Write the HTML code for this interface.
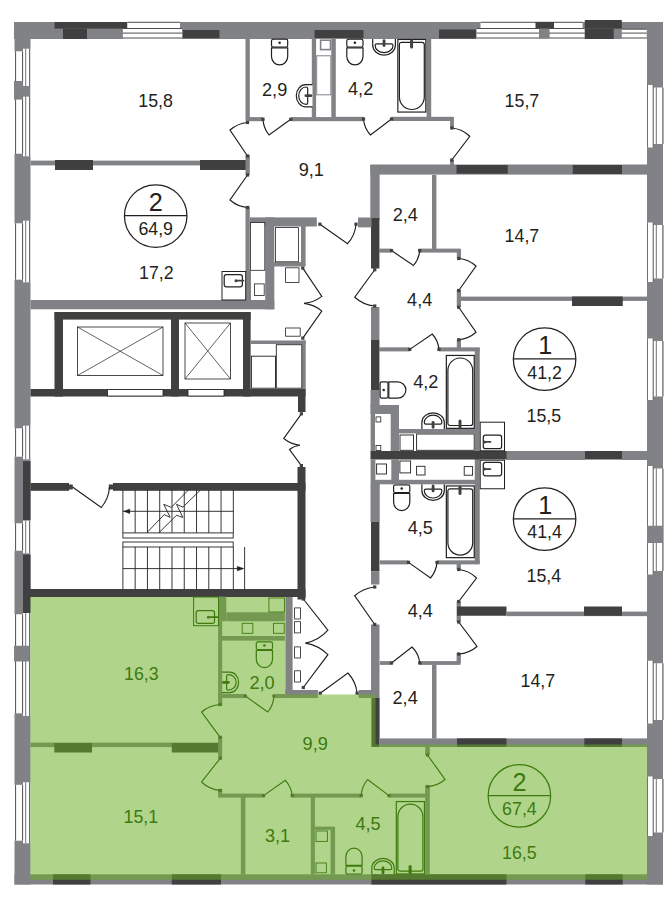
<!DOCTYPE html>
<html><head><meta charset="utf-8"><title>Plan</title>
<style>html,body{margin:0;padding:0;background:#fff}svg{display:block}text{font-family:"Liberation Sans",sans-serif}</style></head>
<body>
<svg width="672" height="907" viewBox="0 0 672 907">
<rect x="14.00" y="22.00" width="649.00" height="17.00" fill="#808285"/>
<rect x="14.50" y="22.00" width="16.00" height="862.50" fill="#808285"/>
<rect x="647.00" y="22.00" width="16.00" height="862.50" fill="#808285"/>
<rect x="14.50" y="874.30" width="648.50" height="10.20" fill="#808285"/>
<rect x="13.00" y="51.30" width="10.00" height="102.40" fill="#fff"/>
<rect x="23.00" y="48.70" width="8.50" height="107.60" fill="#fff"/>
<line x1="15.60" y1="51.30" x2="15.60" y2="153.70" stroke="#4d4d4f" stroke-width="1.0"/>
<line x1="22.60" y1="51.30" x2="22.60" y2="153.70" stroke="#4d4d4f" stroke-width="1.0"/>
<line x1="25.70" y1="48.70" x2="25.70" y2="156.30" stroke="#4d4d4f" stroke-width="0.8"/>
<line x1="29.70" y1="48.70" x2="29.70" y2="156.30" stroke="#4d4d4f" stroke-width="1.0"/>
<rect x="14.00" y="81.00" width="9.00" height="18.60" fill="#808285"/>
<rect x="22.50" y="86.00" width="7.50" height="10.60" fill="#808285"/>
<rect x="13.00" y="223.30" width="10.00" height="56.40" fill="#fff"/>
<rect x="23.00" y="220.70" width="8.50" height="61.60" fill="#fff"/>
<line x1="15.60" y1="223.30" x2="15.60" y2="279.70" stroke="#4d4d4f" stroke-width="1.0"/>
<line x1="22.60" y1="223.30" x2="22.60" y2="279.70" stroke="#4d4d4f" stroke-width="1.0"/>
<line x1="25.70" y1="220.70" x2="25.70" y2="282.30" stroke="#4d4d4f" stroke-width="0.8"/>
<line x1="29.70" y1="220.70" x2="29.70" y2="282.30" stroke="#4d4d4f" stroke-width="1.0"/>
<rect x="13.00" y="428.30" width="10.00" height="28.40" fill="#fff"/>
<rect x="23.00" y="425.70" width="8.50" height="33.60" fill="#fff"/>
<line x1="15.60" y1="428.30" x2="15.60" y2="456.70" stroke="#4d4d4f" stroke-width="1.0"/>
<line x1="22.60" y1="428.30" x2="22.60" y2="456.70" stroke="#4d4d4f" stroke-width="1.0"/>
<line x1="25.70" y1="425.70" x2="25.70" y2="459.30" stroke="#4d4d4f" stroke-width="0.8"/>
<line x1="29.70" y1="425.70" x2="29.70" y2="459.30" stroke="#4d4d4f" stroke-width="1.0"/>
<rect x="13.00" y="523.30" width="10.00" height="27.40" fill="#fff"/>
<rect x="23.00" y="520.70" width="8.50" height="32.60" fill="#fff"/>
<line x1="15.60" y1="523.30" x2="15.60" y2="550.70" stroke="#4d4d4f" stroke-width="1.0"/>
<line x1="22.60" y1="523.30" x2="22.60" y2="550.70" stroke="#4d4d4f" stroke-width="1.0"/>
<line x1="25.70" y1="520.70" x2="25.70" y2="553.30" stroke="#4d4d4f" stroke-width="0.8"/>
<line x1="29.70" y1="520.70" x2="29.70" y2="553.30" stroke="#4d4d4f" stroke-width="1.0"/>
<rect x="13.00" y="614.30" width="10.00" height="99.00" fill="#fff"/>
<rect x="23.00" y="611.70" width="8.50" height="104.20" fill="#fff"/>
<line x1="15.60" y1="614.30" x2="15.60" y2="713.30" stroke="#4d4d4f" stroke-width="1.0"/>
<line x1="22.60" y1="614.30" x2="22.60" y2="713.30" stroke="#4d4d4f" stroke-width="1.0"/>
<line x1="25.70" y1="611.70" x2="25.70" y2="715.90" stroke="#4d4d4f" stroke-width="0.8"/>
<line x1="29.70" y1="611.70" x2="29.70" y2="715.90" stroke="#4d4d4f" stroke-width="1.0"/>
<rect x="14.00" y="645.75" width="15.50" height="15.75" fill="#808285"/>
<rect x="13.00" y="784.80" width="10.00" height="55.90" fill="#fff"/>
<rect x="23.00" y="782.20" width="8.50" height="61.10" fill="#fff"/>
<line x1="15.60" y1="784.80" x2="15.60" y2="840.70" stroke="#4d4d4f" stroke-width="1.0"/>
<line x1="22.60" y1="784.80" x2="22.60" y2="840.70" stroke="#4d4d4f" stroke-width="1.0"/>
<line x1="25.70" y1="782.20" x2="25.70" y2="843.30" stroke="#4d4d4f" stroke-width="0.8"/>
<line x1="29.70" y1="782.20" x2="29.70" y2="843.30" stroke="#4d4d4f" stroke-width="1.0"/>
<rect x="646.00" y="85.00" width="7.30" height="62.50" fill="#fff"/>
<rect x="653.30" y="87.50" width="11.20" height="56.50" fill="#fff"/>
<line x1="647.50" y1="85.00" x2="647.50" y2="147.50" stroke="#4d4d4f" stroke-width="0.8"/>
<line x1="653.20" y1="85.00" x2="653.20" y2="147.50" stroke="#4d4d4f" stroke-width="0.9"/>
<line x1="656.30" y1="87.50" x2="656.30" y2="144.00" stroke="#4d4d4f" stroke-width="0.8"/>
<line x1="662.90" y1="87.50" x2="662.90" y2="144.00" stroke="#4d4d4f" stroke-width="1.1"/>
<rect x="646.00" y="222.50" width="7.30" height="59.50" fill="#fff"/>
<rect x="653.30" y="225.00" width="11.20" height="53.50" fill="#fff"/>
<line x1="647.50" y1="222.50" x2="647.50" y2="282.00" stroke="#4d4d4f" stroke-width="0.8"/>
<line x1="653.20" y1="222.50" x2="653.20" y2="282.00" stroke="#4d4d4f" stroke-width="0.9"/>
<line x1="656.30" y1="225.00" x2="656.30" y2="278.50" stroke="#4d4d4f" stroke-width="0.8"/>
<line x1="662.90" y1="225.00" x2="662.90" y2="278.50" stroke="#4d4d4f" stroke-width="1.1"/>
<rect x="646.00" y="338.50" width="7.30" height="61.50" fill="#fff"/>
<rect x="653.30" y="341.00" width="11.20" height="55.50" fill="#fff"/>
<line x1="647.50" y1="338.50" x2="647.50" y2="400.00" stroke="#4d4d4f" stroke-width="0.8"/>
<line x1="653.20" y1="338.50" x2="653.20" y2="400.00" stroke="#4d4d4f" stroke-width="0.9"/>
<line x1="656.30" y1="341.00" x2="656.30" y2="396.50" stroke="#4d4d4f" stroke-width="0.8"/>
<line x1="662.90" y1="341.00" x2="662.90" y2="396.50" stroke="#4d4d4f" stroke-width="1.1"/>
<rect x="646.00" y="466.00" width="7.30" height="108.50" fill="#fff"/>
<rect x="653.30" y="468.50" width="11.20" height="102.50" fill="#fff"/>
<line x1="647.50" y1="466.00" x2="647.50" y2="574.50" stroke="#4d4d4f" stroke-width="0.8"/>
<line x1="653.20" y1="466.00" x2="653.20" y2="574.50" stroke="#4d4d4f" stroke-width="0.9"/>
<line x1="656.30" y1="468.50" x2="656.30" y2="571.00" stroke="#4d4d4f" stroke-width="0.8"/>
<line x1="662.90" y1="468.50" x2="662.90" y2="571.00" stroke="#4d4d4f" stroke-width="1.1"/>
<rect x="647.00" y="525.75" width="16.00" height="17.25" fill="#808285"/>
<rect x="646.00" y="660.75" width="7.30" height="62.75" fill="#fff"/>
<rect x="653.30" y="663.25" width="11.20" height="56.75" fill="#fff"/>
<line x1="647.50" y1="660.75" x2="647.50" y2="723.50" stroke="#4d4d4f" stroke-width="0.8"/>
<line x1="653.20" y1="660.75" x2="653.20" y2="723.50" stroke="#4d4d4f" stroke-width="0.9"/>
<line x1="656.30" y1="663.25" x2="656.30" y2="720.00" stroke="#4d4d4f" stroke-width="0.8"/>
<line x1="662.90" y1="663.25" x2="662.90" y2="720.00" stroke="#4d4d4f" stroke-width="1.1"/>
<rect x="646.00" y="776.50" width="7.30" height="59.50" fill="#fff"/>
<rect x="653.30" y="779.00" width="11.20" height="53.50" fill="#fff"/>
<line x1="647.50" y1="776.50" x2="647.50" y2="836.00" stroke="#4d4d4f" stroke-width="0.8"/>
<line x1="653.20" y1="776.50" x2="653.20" y2="836.00" stroke="#4d4d4f" stroke-width="0.9"/>
<line x1="656.30" y1="779.00" x2="656.30" y2="832.50" stroke="#4d4d4f" stroke-width="0.8"/>
<line x1="662.90" y1="779.00" x2="662.90" y2="832.50" stroke="#4d4d4f" stroke-width="1.1"/>
<rect x="54.50" y="22.00" width="72.80" height="6.60" fill="#404041"/>
<rect x="63.00" y="28.60" width="24.00" height="10.40" fill="#404041"/>
<rect x="127.30" y="21.00" width="52.70" height="7.60" fill="#fff"/>
<rect x="122.90" y="28.60" width="59.10" height="10.90" fill="#fff"/>
<line x1="127.30" y1="22.30" x2="180.00" y2="22.30" stroke="#4d4d4f" stroke-width="1.0"/>
<line x1="122.90" y1="28.50" x2="182.00" y2="28.50" stroke="#4d4d4f" stroke-width="1.0"/>
<line x1="122.90" y1="33.10" x2="182.00" y2="33.10" stroke="#4d4d4f" stroke-width="1.0"/>
<line x1="122.90" y1="38.00" x2="182.00" y2="38.00" stroke="#4d4d4f" stroke-width="1.0"/>
<rect x="183.00" y="30.00" width="36.50" height="8.20" fill="#404041"/>
<rect x="314.50" y="30.00" width="49.00" height="8.00" fill="#404041"/>
<rect x="439.00" y="29.50" width="37.00" height="9.00" fill="#404041"/>
<rect x="480.50" y="21.00" width="102.50" height="7.60" fill="#fff"/>
<rect x="476.60" y="28.60" width="108.20" height="10.90" fill="#fff"/>
<line x1="480.50" y1="22.30" x2="583.00" y2="22.30" stroke="#4d4d4f" stroke-width="1.0"/>
<line x1="476.60" y1="28.50" x2="584.80" y2="28.50" stroke="#4d4d4f" stroke-width="1.0"/>
<line x1="476.60" y1="33.10" x2="584.80" y2="33.10" stroke="#4d4d4f" stroke-width="1.0"/>
<line x1="476.60" y1="38.00" x2="584.80" y2="38.00" stroke="#4d4d4f" stroke-width="1.0"/>
<rect x="535.50" y="22.00" width="18.50" height="6.60" fill="#404041"/>
<rect x="539.00" y="28.60" width="10.60" height="9.90" fill="#808285"/>
<rect x="582.60" y="22.00" width="2.60" height="6.60" fill="#808285"/>
<rect x="584.80" y="20.00" width="37.00" height="8.60" fill="#404041"/>
<rect x="584.80" y="28.60" width="28.90" height="10.40" fill="#404041"/>
<rect x="621.80" y="29.00" width="24.90" height="10.50" fill="#fff"/>
<line x1="621.80" y1="29.20" x2="646.70" y2="29.20" stroke="#4d4d4f" stroke-width="1.0"/>
<line x1="621.80" y1="33.10" x2="646.70" y2="33.10" stroke="#4d4d4f" stroke-width="1.0"/>
<line x1="621.80" y1="38.00" x2="646.70" y2="38.00" stroke="#4d4d4f" stroke-width="1.0"/>
<rect x="23.00" y="461.20" width="7.50" height="58.80" fill="#404041"/>
<rect x="23.00" y="554.60" width="7.50" height="58.40" fill="#404041"/>
<rect x="53.00" y="874.30" width="37.50" height="10.20" fill="#404041"/>
<rect x="171.80" y="874.30" width="49.20" height="10.20" fill="#404041"/>
<rect x="371.40" y="874.30" width="135.10" height="10.20" fill="#404041"/>
<rect x="585.30" y="874.30" width="37.40" height="10.20" fill="#404041"/>
<rect x="30.50" y="160.60" width="215.50" height="4.80" fill="#808285"/>
<rect x="55.00" y="160.00" width="38.00" height="10.00" fill="#404041"/>
<rect x="200.00" y="160.00" width="49.00" height="10.00" fill="#404041"/>
<rect x="245.50" y="39.00" width="4.30" height="81.80" fill="#808285"/>
<rect x="245.50" y="155.00" width="4.30" height="20.00" fill="#808285"/>
<rect x="245.50" y="206.60" width="4.30" height="94.40" fill="#808285"/>
<rect x="246.20" y="117.10" width="16.80" height="4.10" fill="#808285"/>
<rect x="290.80" y="117.10" width="72.70" height="4.10" fill="#808285"/>
<rect x="311.80" y="39.00" width="4.30" height="78.50" fill="#808285"/>
<rect x="331.30" y="39.00" width="4.50" height="78.50" fill="#808285"/>
<rect x="335.00" y="116.80" width="28.50" height="4.20" fill="#808285"/>
<rect x="391.50" y="116.80" width="62.00" height="4.20" fill="#808285"/>
<rect x="426.60" y="39.00" width="4.60" height="78.50" fill="#808285"/>
<rect x="450.10" y="117.20" width="3.80" height="10.80" fill="#808285"/>
<rect x="450.10" y="160.00" width="3.80" height="6.00" fill="#808285"/>
<rect x="320.60" y="40.20" width="9.90" height="9.40" rx="0" fill="#fff" stroke="#808285" stroke-width="1.6"/>
<rect x="316.70" y="55.80" width="14.10" height="39.00" rx="0" fill="#fff" stroke="#808285" stroke-width="1.0"/>
<rect x="30.50" y="300.00" width="243.80" height="9.30" fill="#808285"/>
<rect x="265.20" y="217.40" width="9.10" height="91.90" fill="#808285"/>
<rect x="250.00" y="217.40" width="66.80" height="9.10" fill="#808285"/>
<rect x="301.00" y="226.00" width="4.60" height="40.10" fill="#808285"/>
<rect x="274.00" y="262.10" width="31.20" height="4.40" fill="#808285"/>
<rect x="250.60" y="222.50" width="14.20" height="47.80" rx="0" fill="#fff" stroke="#231f20" stroke-width="0.8"/>
<rect x="254.40" y="283.90" width="9.80" height="11.50" rx="0" fill="#fff" stroke="#231f20" stroke-width="0.8"/>
<line x1="250.20" y1="270.30" x2="250.20" y2="300.00" stroke="#231f20" stroke-width="0.8"/>
<rect x="275.40" y="227.60" width="23.00" height="34.20" rx="0" fill="#fff" stroke="#231f20" stroke-width="0.8"/>
<rect x="285.60" y="267.80" width="13.40" height="14.80" rx="0" fill="#fff" stroke="#231f20" stroke-width="0.8"/>
<rect x="285.60" y="328.00" width="14.60" height="8.20" rx="0" fill="#fff" stroke="#231f20" stroke-width="0.8"/>
<rect x="370.30" y="164.50" width="276.70" height="10.10" fill="#808285"/>
<rect x="456.50" y="165.00" width="51.25" height="8.70" fill="#404041"/>
<rect x="572.75" y="165.00" width="49.25" height="9.00" fill="#404041"/>
<rect x="370.30" y="165.00" width="9.30" height="55.00" fill="#808285"/>
<rect x="371.00" y="218.00" width="8.40" height="50.50" fill="#404041"/>
<rect x="432.00" y="175.00" width="4.40" height="74.00" fill="#808285"/>
<rect x="379.00" y="248.60" width="12.50" height="4.00" fill="#808285"/>
<rect x="418.50" y="248.60" width="42.00" height="4.00" fill="#808285"/>
<rect x="456.80" y="249.00" width="4.20" height="9.50" fill="#808285"/>
<rect x="456.80" y="290.00" width="4.20" height="17.00" fill="#808285"/>
<rect x="456.80" y="340.00" width="4.20" height="8.50" fill="#808285"/>
<rect x="460.50" y="296.60" width="186.50" height="4.30" fill="#808285"/>
<rect x="572.00" y="296.50" width="50.75" height="9.50" fill="#404041"/>
<rect x="371.00" y="307.00" width="8.40" height="33.00" fill="#808285"/>
<rect x="371.00" y="340.00" width="8.40" height="50.00" fill="#404041"/>
<rect x="370.50" y="390.00" width="9.10" height="16.00" fill="#808285"/>
<rect x="379.00" y="347.35" width="30.75" height="4.05" fill="#808285"/>
<rect x="439.00" y="347.35" width="40.75" height="4.05" fill="#808285"/>
<rect x="474.75" y="348.00" width="5.00" height="215.00" fill="#808285"/>
<rect x="370.50" y="451.00" width="276.50" height="8.50" fill="#404041"/>
<rect x="506.50" y="451.00" width="78.50" height="9.00" fill="#808285"/>
<rect x="622.00" y="451.00" width="25.00" height="9.00" fill="#808285"/>
<rect x="370.50" y="484.00" width="9.25" height="38.00" fill="#808285"/>
<rect x="371.00" y="522.00" width="8.40" height="49.50" fill="#404041"/>
<rect x="371.00" y="571.50" width="8.40" height="13.00" fill="#808285"/>
<rect x="379.75" y="560.35" width="28.75" height="4.05" fill="#808285"/>
<rect x="437.00" y="560.35" width="42.75" height="4.05" fill="#808285"/>
<rect x="456.60" y="564.00" width="4.30" height="5.50" fill="#808285"/>
<rect x="456.60" y="601.50" width="4.30" height="20.50" fill="#808285"/>
<rect x="456.60" y="653.00" width="4.30" height="10.00" fill="#808285"/>
<rect x="457.00" y="606.50" width="49.50" height="9.25" fill="#404041"/>
<rect x="506.50" y="611.60" width="140.50" height="4.55" fill="#808285"/>
<rect x="584.00" y="606.50" width="38.00" height="9.25" fill="#404041"/>
<rect x="379.75" y="661.10" width="11.75" height="3.80" fill="#808285"/>
<rect x="419.75" y="661.10" width="40.75" height="3.80" fill="#808285"/>
<rect x="432.00" y="664.50" width="4.50" height="74.10" fill="#808285"/>
<rect x="371.00" y="624.50" width="8.50" height="73.50" fill="#808285"/>
<rect x="371.40" y="698.00" width="8.20" height="49.00" fill="#404041"/>
<rect x="379.60" y="738.40" width="267.40" height="8.60" fill="#808285"/>
<rect x="457.00" y="738.40" width="49.50" height="8.60" fill="#404041"/>
<rect x="584.30" y="738.40" width="37.70" height="8.60" fill="#404041"/>
<rect x="358.60" y="690.00" width="13.40" height="8.00" fill="#808285"/>
<rect x="285.40" y="690.00" width="32.50" height="8.00" fill="#808285"/>
<rect x="285.40" y="596.70" width="7.20" height="101.30" fill="#808285"/>
<rect x="54.50" y="312.00" width="196.10" height="7.60" fill="#404041"/>
<rect x="54.50" y="312.00" width="8.50" height="84.50" fill="#404041"/>
<rect x="171.00" y="312.00" width="8.00" height="84.50" fill="#404041"/>
<rect x="243.00" y="312.00" width="7.60" height="84.50" fill="#404041"/>
<rect x="30.50" y="389.00" width="275.00" height="7.50" fill="#404041"/>
<rect x="107.50" y="389.60" width="55.50" height="6.40" rx="0" fill="#fff" stroke="#231f20" stroke-width="0.8"/>
<rect x="188.00" y="389.60" width="36.00" height="6.40" rx="0" fill="#fff" stroke="#231f20" stroke-width="0.8"/>
<rect x="298.00" y="389.00" width="7.50" height="23.00" fill="#404041"/>
<rect x="30.50" y="483.00" width="38.50" height="7.80" fill="#404041"/>
<rect x="69.00" y="484.50" width="3.80" height="5.00" fill="#404041"/>
<rect x="113.00" y="483.00" width="192.50" height="7.80" fill="#404041"/>
<rect x="108.80" y="484.50" width="4.20" height="5.00" fill="#404041"/>
<rect x="297.50" y="467.00" width="8.00" height="132.50" fill="#404041"/>
<rect x="23.00" y="589.00" width="282.50" height="8.00" fill="#404041"/>
<rect x="77.50" y="327.00" width="85.50" height="48.50" rx="0" fill="#fff" stroke="#231f20" stroke-width="0.8"/>
<path d="M77.5,327 L163,375.5 M163,327 L77.5,375.5" fill="none" stroke="#231f20" stroke-width="0.7" />
<rect x="185.00" y="323.00" width="45.50" height="56.00" rx="0" fill="#fff" stroke="#231f20" stroke-width="0.8"/>
<path d="M185,323 L230.5,379 M230.5,323 L185,379" fill="none" stroke="#231f20" stroke-width="0.7" />
<rect x="250.60" y="340.50" width="55.10" height="3.50" fill="#808285"/>
<rect x="302.10" y="340.50" width="3.60" height="48.50" fill="#808285"/>
<rect x="251.40" y="356.20" width="24.10" height="32.00" rx="0" fill="#fff" stroke="#231f20" stroke-width="0.9"/>
<rect x="276.30" y="344.70" width="25.50" height="43.50" rx="0" fill="#fff" stroke="#231f20" stroke-width="0.9"/>
<rect x="218.50" y="596.70" width="7.80" height="24.55" fill="#808285"/>
<rect x="218.10" y="596.70" width="4.10" height="109.10" fill="#808285"/>
<rect x="226.30" y="612.30" width="58.50" height="8.95" fill="#808285"/>
<rect x="221.80" y="636.00" width="63.00" height="4.60" fill="#808285"/>
<rect x="30.50" y="742.60" width="191.30" height="4.50" fill="#808285"/>
<rect x="54.30" y="743.00" width="37.70" height="9.50" fill="#404041"/>
<rect x="171.80" y="743.00" width="50.00" height="9.50" fill="#404041"/>
<rect x="218.10" y="736.60" width="4.10" height="21.70" fill="#808285"/>
<rect x="218.10" y="789.00" width="4.10" height="8.20" fill="#808285"/>
<rect x="218.50" y="694.00" width="26.80" height="4.10" fill="#808285"/>
<rect x="275.40" y="694.00" width="10.00" height="4.10" fill="#808285"/>
<rect x="218.50" y="793.60" width="45.00" height="4.00" fill="#808285"/>
<rect x="292.20" y="793.60" width="69.05" height="4.00" fill="#808285"/>
<rect x="389.00" y="793.60" width="36.60" height="4.00" fill="#808285"/>
<rect x="240.80" y="797.00" width="4.60" height="77.50" fill="#808285"/>
<rect x="310.80" y="797.00" width="4.10" height="77.50" fill="#808285"/>
<rect x="425.20" y="746.00" width="4.60" height="9.00" fill="#808285"/>
<rect x="425.20" y="785.30" width="4.60" height="89.20" fill="#808285"/>
<path d="M247.50,156.00 L230.00,130.00 A31.34,31.34 0 0 1 247.50,122.50" fill="none" stroke="#231f20" stroke-width="1.15" />
<rect x="245.90" y="154.40" width="3.20" height="3.20" fill="#404041"/>
<rect x="245.90" y="120.90" width="3.20" height="3.20" fill="#404041"/>
<path d="M247.50,175.00 L230.00,200.00 A30.52,30.52 0 0 0 247.50,207.50" fill="none" stroke="#231f20" stroke-width="1.15" />
<rect x="245.90" y="173.40" width="3.20" height="3.20" fill="#404041"/>
<rect x="245.90" y="205.90" width="3.20" height="3.20" fill="#404041"/>
<path d="M290.80,119.30 L269.00,135.00 A26.87,26.87 0 0 1 263.00,119.30" fill="none" stroke="#231f20" stroke-width="1.15" />
<rect x="289.20" y="117.70" width="3.20" height="3.20" fill="#404041"/>
<rect x="261.40" y="117.70" width="3.20" height="3.20" fill="#404041"/>
<path d="M391.50,119.00 L370.50,135.00 A26.40,26.40 0 0 1 363.50,119.00" fill="none" stroke="#231f20" stroke-width="1.15" />
<rect x="389.90" y="117.40" width="3.20" height="3.20" fill="#404041"/>
<rect x="361.90" y="117.40" width="3.20" height="3.20" fill="#404041"/>
<path d="M451.80,160.00 L469.75,136.25 A29.77,29.77 0 0 0 451.80,128.00" fill="none" stroke="#231f20" stroke-width="1.15" />
<rect x="450.20" y="158.40" width="3.20" height="3.20" fill="#404041"/>
<rect x="450.20" y="126.40" width="3.20" height="3.20" fill="#404041"/>
<path d="M302.80,268.10 L321.80,296.40 A34.09,34.09 0 0 1 304.10,303.40" fill="none" stroke="#231f20" stroke-width="1.15" />
<rect x="301.20" y="266.50" width="3.20" height="3.20" fill="#404041"/>
<path d="M302.80,338.10 L321.80,311.10 A33.02,33.02 0 0 0 304.10,303.40" fill="none" stroke="#231f20" stroke-width="1.15" />
<rect x="301.20" y="336.50" width="3.20" height="3.20" fill="#404041"/>
<path d="M391.50,250.60 L413.50,265.50 A26.57,26.57 0 0 0 419.75,250.60" fill="none" stroke="#231f20" stroke-width="1.15" />
<rect x="389.90" y="249.00" width="3.20" height="3.20" fill="#404041"/>
<rect x="418.15" y="249.00" width="3.20" height="3.20" fill="#404041"/>
<path d="M374.75,269.75 L354.75,297.25 A34.00,34.00 0 0 0 374.75,306.00" fill="none" stroke="#231f20" stroke-width="1.15" />
<rect x="373.15" y="268.15" width="3.20" height="3.20" fill="#404041"/>
<rect x="373.15" y="304.40" width="3.20" height="3.20" fill="#404041"/>
<path d="M458.70,290.50 L476.00,266.00 A29.99,29.99 0 0 0 458.70,258.50" fill="none" stroke="#231f20" stroke-width="1.15" />
<rect x="457.10" y="288.90" width="3.20" height="3.20" fill="#404041"/>
<rect x="457.10" y="256.90" width="3.20" height="3.20" fill="#404041"/>
<path d="M458.70,307.25 L476.00,332.25 A30.40,30.40 0 0 1 458.70,339.75" fill="none" stroke="#231f20" stroke-width="1.15" />
<rect x="457.10" y="305.65" width="3.20" height="3.20" fill="#404041"/>
<rect x="457.10" y="338.15" width="3.20" height="3.20" fill="#404041"/>
<path d="M409.75,349.40 L432.25,334.00 A27.27,27.27 0 0 1 439.00,349.40" fill="none" stroke="#231f20" stroke-width="1.15" />
<rect x="408.15" y="347.80" width="3.20" height="3.20" fill="#404041"/>
<rect x="437.40" y="347.80" width="3.20" height="3.20" fill="#404041"/>
<path d="M408.50,562.40 L430.50,578.00 A26.97,26.97 0 0 0 437.00,562.40" fill="none" stroke="#231f20" stroke-width="1.15" />
<rect x="406.90" y="560.80" width="3.20" height="3.20" fill="#404041"/>
<rect x="435.40" y="560.80" width="3.20" height="3.20" fill="#404041"/>
<path d="M458.70,601.50 L476.50,578.00 A29.48,29.48 0 0 0 458.70,569.50" fill="none" stroke="#231f20" stroke-width="1.15" />
<rect x="457.10" y="599.90" width="3.20" height="3.20" fill="#404041"/>
<rect x="457.10" y="567.90" width="3.20" height="3.20" fill="#404041"/>
<path d="M458.70,622.00 L477.00,646.50 A30.58,30.58 0 0 1 458.70,654.00" fill="none" stroke="#231f20" stroke-width="1.15" />
<rect x="457.10" y="620.40" width="3.20" height="3.20" fill="#404041"/>
<rect x="457.10" y="652.40" width="3.20" height="3.20" fill="#404041"/>
<path d="M374.75,624.50 L354.75,595.75 A35.02,35.02 0 0 1 374.75,587.00" fill="none" stroke="#231f20" stroke-width="1.15" />
<rect x="373.15" y="622.90" width="3.20" height="3.20" fill="#404041"/>
<rect x="373.15" y="585.40" width="3.20" height="3.20" fill="#404041"/>
<path d="M391.50,663.00 L412.00,647.00 A26.00,26.00 0 0 1 419.75,663.00" fill="none" stroke="#231f20" stroke-width="1.15" />
<rect x="389.90" y="661.40" width="3.20" height="3.20" fill="#404041"/>
<rect x="418.15" y="661.40" width="3.20" height="3.20" fill="#404041"/>
<path d="M72.50,487.00 L101.25,507.50 A35.31,35.31 0 0 0 109.50,487.00" fill="none" stroke="#231f20" stroke-width="1.15" />
<rect x="358.00" y="217.50" width="13.50" height="9.90" fill="#808285"/>
<path d="M319.90,224.20 L347.60,243.70 A33.88,33.88 0 0 0 356.00,224.20" fill="none" stroke="#231f20" stroke-width="1.15" />
<rect x="318.30" y="222.60" width="3.20" height="3.20" fill="#404041"/>
<rect x="354.40" y="222.60" width="3.20" height="3.20" fill="#404041"/>
<path d="M301.40,413.80 L283.80,438.50 A30.33,30.33 0 0 0 299.90,445.20" fill="none" stroke="#231f20" stroke-width="1.15" />
<rect x="299.80" y="412.20" width="3.20" height="3.20" fill="#404041"/>
<path d="M301.40,465.60 L289.50,449.50 A20.02,20.02 0 0 1 299.90,445.20" fill="none" stroke="#231f20" stroke-width="1.15" />
<rect x="299.80" y="464.00" width="3.20" height="3.20" fill="#404041"/>
<path d="M303.30,599.00 L327.90,630.20 A39.73,39.73 0 0 1 305.50,643.10" fill="none" stroke="#231f20" stroke-width="1.15" />
<rect x="301.70" y="597.40" width="3.20" height="3.20" fill="#404041"/>
<path d="M303.30,687.50 L327.90,654.70 A41.00,41.00 0 0 0 305.50,643.10" fill="none" stroke="#231f20" stroke-width="1.15" />
<rect x="301.70" y="685.90" width="3.20" height="3.20" fill="#404041"/>
<path d="M320.20,693.20 L347.90,673.00 A34.28,34.28 0 0 1 357.10,693.20" fill="none" stroke="#231f20" stroke-width="1.15" />
<rect x="318.60" y="691.60" width="3.20" height="3.20" fill="#404041"/>
<rect x="355.50" y="691.60" width="3.20" height="3.20" fill="#404041"/>
<g transform="translate(270.9,38.6)"><rect x="0.6" y="0.5" width="16.2" height="7.9" rx="1.8" fill="#fff" stroke="#231f20" stroke-width="1.2"/><circle cx="8.7" cy="4.1" r="1.25" fill="#231f20"/><path d="M0.6,9.2 L16.8,9.2 L16.8,18 A8.1,8.3 0 0 1 0.6,18 Z" fill="#fff" stroke="#231f20" stroke-width="1.2"/></g>
<g transform="translate(312.5,84) rotate(90)"><path d="M0.6,0 L0.6,6.65 A11.10,9.55 0 0 0 22.80,6.65 L22.80,0" fill="#fff" stroke="#231f20" stroke-width="1.2"/><path d="M4.6,4.8 L18.80,4.8 Q20.40,4.8 20.40,6.4 A8.70,7.40 0 0 1 3,6.4 Q3,4.8 4.6,4.8 Z" fill="#fff" stroke="#231f20" stroke-width="1.2"/><path d="M11.70,1.6 L11.70,6.6" stroke="#404041" stroke-width="2.8" stroke-linecap="round"/></g>
<g transform="translate(346.2,38.6)"><rect x="0.6" y="0.5" width="16.2" height="7.9" rx="1.8" fill="#fff" stroke="#231f20" stroke-width="1.2"/><circle cx="8.7" cy="4.1" r="1.25" fill="#231f20"/><path d="M0.6,9.2 L16.8,9.2 L16.8,18 A8.1,8.3 0 0 1 0.6,18 Z" fill="#fff" stroke="#231f20" stroke-width="1.2"/></g>
<g transform="translate(372.1,39)"><path d="M0.6,0 L0.6,6.34 A11.35,9.76 0 0 0 23.30,6.34 L23.30,0" fill="#fff" stroke="#231f20" stroke-width="1.2"/><path d="M4.6,4.8 L19.30,4.8 Q20.90,4.8 20.90,6.4 A8.95,7.30 0 0 1 3,6.4 Q3,4.8 4.6,4.8 Z" fill="#fff" stroke="#231f20" stroke-width="1.2"/><path d="M11.95,1.6 L11.95,6.6" stroke="#404041" stroke-width="2.8" stroke-linecap="round"/></g>
<g transform="translate(397.3,38.9)"><rect x="0.55" y="0.55" width="28.00" height="72.60" fill="#fff" stroke="#231f20" stroke-width="1.2"/><path d="M4.4,3.4 L24.70,3.4 Q27.00,3.4 27.00,5.7 L27.00,58.15 A12.45,12.45 0 0 1 2.1,58.15 L2.1,5.7 Q2.1,3.4 4.4,3.4 Z" fill="#fff" stroke="#231f20" stroke-width="1.2"/><path d="M14.25,1.8 L14.25,8" stroke="#404041" stroke-width="3" stroke-linecap="round"/></g>
<g transform="translate(379.6,398.7) rotate(-90)"><rect x="0.6" y="0.5" width="16.2" height="7.9" rx="1.8" fill="#fff" stroke="#231f20" stroke-width="1.2"/><circle cx="8.7" cy="4.1" r="1.25" fill="#231f20"/><path d="M0.6,9.2 L16.8,9.2 L16.8,18 A8.1,8.3 0 0 1 0.6,18 Z" fill="#fff" stroke="#231f20" stroke-width="1.2"/></g>
<g transform="translate(421.3,428.9) scale(1,-1)"><path d="M0.6,0 L0.6,6.47 A11.20,9.63 0 0 0 23.00,6.47 L23.00,0" fill="#fff" stroke="#231f20" stroke-width="1.2"/><path d="M4.6,4.8 L19.00,4.8 Q20.60,4.8 20.60,6.4 A8.80,7.30 0 0 1 3,6.4 Q3,4.8 4.6,4.8 Z" fill="#fff" stroke="#231f20" stroke-width="1.2"/><path d="M11.80,1.6 L11.80,6.6" stroke="#404041" stroke-width="2.8" stroke-linecap="round"/></g>
<g transform="translate(445.8,428.9) scale(1,-1)"><rect x="0.55" y="0.55" width="27.90" height="72.90" fill="#fff" stroke="#231f20" stroke-width="1.2"/><path d="M4.4,3.4 L24.60,3.4 Q26.90,3.4 26.90,5.7 L26.90,58.50 A12.40,12.40 0 0 1 2.1,58.50 L2.1,5.7 Q2.1,3.4 4.4,3.4 Z" fill="#fff" stroke="#231f20" stroke-width="1.2"/><path d="M14.20,1.8 L14.20,8" stroke="#404041" stroke-width="3" stroke-linecap="round"/></g>
<g transform="translate(393,484.3)"><rect x="0.6" y="0.5" width="16.2" height="7.9" rx="1.8" fill="#fff" stroke="#231f20" stroke-width="1.2"/><circle cx="8.7" cy="4.1" r="1.25" fill="#231f20"/><path d="M0.6,9.2 L16.8,9.2 L16.8,18 A8.1,8.3 0 0 1 0.6,18 Z" fill="#fff" stroke="#231f20" stroke-width="1.2"/></g>
<g transform="translate(421.3,484.3)"><path d="M0.6,0 L0.6,6.47 A11.20,9.63 0 0 0 23.00,6.47 L23.00,0" fill="#fff" stroke="#231f20" stroke-width="1.2"/><path d="M4.6,4.8 L19.00,4.8 Q20.60,4.8 20.60,6.4 A8.80,7.30 0 0 1 3,6.4 Q3,4.8 4.6,4.8 Z" fill="#fff" stroke="#231f20" stroke-width="1.2"/><path d="M11.80,1.6 L11.80,6.6" stroke="#404041" stroke-width="2.8" stroke-linecap="round"/></g>
<g transform="translate(445.8,485.4)"><rect x="0.55" y="0.55" width="27.90" height="71.70" fill="#fff" stroke="#231f20" stroke-width="1.2"/><path d="M4.4,3.4 L24.60,3.4 Q26.90,3.4 26.90,5.7 L26.90,57.30 A12.40,12.40 0 0 1 2.1,57.30 L2.1,5.7 Q2.1,3.4 4.4,3.4 Z" fill="#fff" stroke="#231f20" stroke-width="1.2"/><path d="M14.20,1.8 L14.20,8" stroke="#404041" stroke-width="3" stroke-linecap="round"/></g>
<rect x="222.00" y="271.50" width="23.70" height="28.50" rx="0" fill="#fff" stroke="#231f20" stroke-width="1.0"/>
<rect x="224.20" y="274.60" width="18.20" height="12.20" rx="2.2" fill="#fff" stroke="#231f20" stroke-width="1.2"/>
<path d="M236,280.7 L243.5,280.7" fill="none" stroke="#404041" stroke-width="1.7" stroke-linecap="round"/>
<circle cx="236" cy="280.7" r="1.5" fill="#404041"/>
<rect x="480.20" y="422.20" width="24.30" height="28.60" rx="0" fill="#fff" stroke="#231f20" stroke-width="1.0"/>
<rect x="483.30" y="435.20" width="18.30" height="13.40" rx="2.2" fill="#fff" stroke="#231f20" stroke-width="1.2"/>
<path d="M484.5,441.9 L490.5,441.9" fill="none" stroke="#404041" stroke-width="1.7" stroke-linecap="round"/>
<circle cx="484.5" cy="441.9" r="1.5" fill="#404041"/>
<rect x="480.20" y="460.20" width="24.30" height="28.55" rx="0" fill="#fff" stroke="#231f20" stroke-width="1.0"/>
<rect x="483.30" y="462.40" width="18.30" height="13.40" rx="2.2" fill="#fff" stroke="#231f20" stroke-width="1.2"/>
<path d="M484.5,469.1 L490.5,469.1" fill="none" stroke="#404041" stroke-width="1.7" stroke-linecap="round"/>
<circle cx="484.5" cy="469.1" r="1.5" fill="#404041"/>
<rect x="370.60" y="405.00" width="28.40" height="9.00" fill="#808285"/>
<rect x="370.60" y="405.00" width="4.40" height="46.00" fill="#808285"/>
<rect x="390.70" y="405.00" width="8.30" height="46.00" fill="#808285"/>
<rect x="376.00" y="416.90" width="4.80" height="5.10" rx="0" fill="#fff" stroke="#231f20" stroke-width="0.8"/>
<rect x="376.00" y="445.40" width="4.80" height="5.20" rx="0" fill="#fff" stroke="#231f20" stroke-width="0.8"/>
<rect x="399.00" y="429.00" width="80.30" height="4.40" fill="#808285"/>
<rect x="400.00" y="435.00" width="13.50" height="15.30" rx="0" fill="#fff" stroke="#231f20" stroke-width="0.9"/>
<rect x="416.60" y="434.00" width="57.60" height="16.30" rx="0" fill="#fff" stroke="#231f20" stroke-width="0.9"/>
<rect x="370.60" y="459.50" width="4.80" height="24.80" fill="#808285"/>
<rect x="391.30" y="459.50" width="7.70" height="24.80" fill="#808285"/>
<rect x="375.00" y="479.80" width="104.30" height="4.50" fill="#808285"/>
<rect x="376.60" y="464.00" width="9.90" height="10.00" rx="0" fill="#fff" stroke="#231f20" stroke-width="0.9"/>
<rect x="399.90" y="461.00" width="10.70" height="11.90" rx="0" fill="#fff" stroke="#231f20" stroke-width="0.9"/>
<rect x="416.60" y="466.30" width="8.40" height="8.70" rx="0" fill="#fff" stroke="#231f20" stroke-width="0.9"/>
<rect x="464.20" y="466.60" width="8.40" height="8.60" rx="0" fill="#fff" stroke="#231f20" stroke-width="0.9"/>
<rect x="294.60" y="607.90" width="5.90" height="11.10" rx="0" fill="#fff" stroke="#231f20" stroke-width="0.8"/>
<rect x="294.60" y="621.70" width="5.90" height="11.20" rx="0" fill="#fff" stroke="#231f20" stroke-width="0.8"/>
<rect x="294.60" y="646.90" width="5.90" height="11.10" rx="0" fill="#fff" stroke="#231f20" stroke-width="0.8"/>
<rect x="294.60" y="670.80" width="5.90" height="11.20" rx="0" fill="#fff" stroke="#231f20" stroke-width="0.8"/>
<rect x="330.50" y="827.00" width="4.60" height="47.50" fill="#808285"/>
<rect x="314.50" y="826.60" width="20.20" height="3.30" fill="#808285"/>
<line x1="122.90" y1="490.00" x2="122.90" y2="532.90" stroke="#231f20" stroke-width="0.9"/>
<line x1="122.90" y1="547.00" x2="122.90" y2="589.40" stroke="#231f20" stroke-width="0.9"/>
<line x1="135.17" y1="490.00" x2="135.17" y2="532.90" stroke="#231f20" stroke-width="0.9"/>
<line x1="135.17" y1="547.00" x2="135.17" y2="589.40" stroke="#231f20" stroke-width="0.9"/>
<line x1="147.44" y1="490.00" x2="147.44" y2="532.90" stroke="#231f20" stroke-width="0.9"/>
<line x1="147.44" y1="547.00" x2="147.44" y2="589.40" stroke="#231f20" stroke-width="0.9"/>
<line x1="159.71" y1="490.00" x2="159.71" y2="532.90" stroke="#231f20" stroke-width="0.9"/>
<line x1="159.71" y1="547.00" x2="159.71" y2="589.40" stroke="#231f20" stroke-width="0.9"/>
<line x1="171.98" y1="490.00" x2="171.98" y2="532.90" stroke="#231f20" stroke-width="0.9"/>
<line x1="171.98" y1="547.00" x2="171.98" y2="589.40" stroke="#231f20" stroke-width="0.9"/>
<line x1="184.25" y1="490.00" x2="184.25" y2="532.90" stroke="#231f20" stroke-width="0.9"/>
<line x1="184.25" y1="547.00" x2="184.25" y2="589.40" stroke="#231f20" stroke-width="0.9"/>
<line x1="196.52" y1="490.00" x2="196.52" y2="532.90" stroke="#231f20" stroke-width="0.9"/>
<line x1="196.52" y1="547.00" x2="196.52" y2="589.40" stroke="#231f20" stroke-width="0.9"/>
<line x1="208.79" y1="490.00" x2="208.79" y2="532.90" stroke="#231f20" stroke-width="0.9"/>
<line x1="208.79" y1="547.00" x2="208.79" y2="589.40" stroke="#231f20" stroke-width="0.9"/>
<line x1="221.06" y1="490.00" x2="221.06" y2="532.90" stroke="#231f20" stroke-width="0.9"/>
<line x1="221.06" y1="547.00" x2="221.06" y2="589.40" stroke="#231f20" stroke-width="0.9"/>
<line x1="233.33" y1="490.00" x2="233.33" y2="532.90" stroke="#231f20" stroke-width="0.9"/>
<line x1="233.33" y1="547.00" x2="233.33" y2="589.40" stroke="#231f20" stroke-width="0.9"/>
<line x1="122.90" y1="511.30" x2="233.20" y2="511.30" stroke="#231f20" stroke-width="0.9"/>
<line x1="122.90" y1="568.60" x2="243.00" y2="568.60" stroke="#231f20" stroke-width="0.9"/>
<rect x="122.90" y="532.90" width="110.30" height="5.10" rx="0" fill="#fff" stroke="#231f20" stroke-width="0.9"/>
<rect x="122.90" y="542.00" width="110.30" height="5.00" rx="0" fill="#fff" stroke="#231f20" stroke-width="0.9"/>
<line x1="244.60" y1="547.00" x2="244.60" y2="589.40" stroke="#231f20" stroke-width="0.9"/>
<path d="M244,568.6 L237.2,566.2 L237.2,571 Z" fill="#231f20" stroke="#231f20" stroke-width="0.3" />
<path d="M123.6,511.3 L129.8,508.9 L129.8,513.7 Z" fill="#231f20" stroke="#231f20" stroke-width="0.3" />
<path d="M147.1,532.4 L164.2,514.7 L170.2,517.3 L163.75,504.3 L171.25,507.4 L188.4,490" fill="none" stroke="#231f20" stroke-width="0.9" />
<path d="M159.3,532.4 L176.5,515.2 L182.9,517.5 L176.5,504.3 L182.9,507.1 L200.4,490" fill="none" stroke="#231f20" stroke-width="0.9" />
<text transform="translate(138.25,107.00) scale(1.0,1)" font-size="17.8" text-anchor="start" fill="#231f20">15,8</text>
<text transform="translate(262.00,96.00) scale(1.02,1)" font-size="17.8" text-anchor="start" fill="#231f20">2,9</text>
<text transform="translate(348.00,95.00) scale(1.02,1)" font-size="17.8" text-anchor="start" fill="#231f20">4,2</text>
<text transform="translate(504.60,107.00) scale(1.0,1)" font-size="17.8" text-anchor="start" fill="#231f20">15,7</text>
<text transform="translate(298.70,176.00) scale(1.02,1)" font-size="17.8" text-anchor="start" fill="#231f20">9,1</text>
<text transform="translate(392.70,221.00) scale(1.02,1)" font-size="17.8" text-anchor="start" fill="#231f20">2,4</text>
<text transform="translate(504.60,242.00) scale(1.0,1)" font-size="17.8" text-anchor="start" fill="#231f20">14,7</text>
<text transform="translate(139.00,279.00) scale(1.0,1)" font-size="17.8" text-anchor="start" fill="#231f20">17,2</text>
<text transform="translate(407.10,306.00) scale(1.02,1)" font-size="17.8" text-anchor="start" fill="#231f20">4,4</text>
<text transform="translate(413.20,388.00) scale(1.02,1)" font-size="17.8" text-anchor="start" fill="#231f20">4,2</text>
<text transform="translate(526.50,422.00) scale(1.0,1)" font-size="17.8" text-anchor="start" fill="#231f20">15,5</text>
<text transform="translate(407.70,534.00) scale(1.02,1)" font-size="17.8" text-anchor="start" fill="#231f20">4,5</text>
<text transform="translate(526.50,582.00) scale(1.0,1)" font-size="17.8" text-anchor="start" fill="#231f20">15,4</text>
<text transform="translate(407.70,617.00) scale(1.02,1)" font-size="17.8" text-anchor="start" fill="#231f20">4,4</text>
<text transform="translate(520.50,687.00) scale(1.0,1)" font-size="17.8" text-anchor="start" fill="#231f20">14,7</text>
<text transform="translate(392.50,704.00) scale(1.02,1)" font-size="17.8" text-anchor="start" fill="#231f20">2,4</text>
<circle cx="155.7" cy="216" r="31.25" fill="none" stroke="#231f20" stroke-width="1.25"/>
<line x1="124.45" y1="215.70" x2="186.95" y2="215.70" stroke="#231f20" stroke-width="1.2"/>
<text transform="translate(155.70,211.00) scale(1.0,1)" font-size="25.2" text-anchor="middle" fill="#231f20">2</text>
<text transform="translate(155.70,235.00) scale(1.0,1)" font-size="17.8" text-anchor="middle" fill="#231f20">64,9</text>
<circle cx="544.6" cy="359.2" r="31.25" fill="none" stroke="#231f20" stroke-width="1.25"/>
<line x1="513.35" y1="358.90" x2="575.85" y2="358.90" stroke="#231f20" stroke-width="1.2"/>
<text transform="translate(545.20,354.00) scale(1.0,1)" font-size="25.2" text-anchor="middle" fill="#231f20">1</text>
<text transform="translate(544.60,379.00) scale(1.0,1)" font-size="17.8" text-anchor="middle" fill="#231f20">41,2</text>
<circle cx="544.6" cy="519.1" r="31.25" fill="none" stroke="#231f20" stroke-width="1.25"/>
<line x1="513.35" y1="518.80" x2="575.85" y2="518.80" stroke="#231f20" stroke-width="1.2"/>
<text transform="translate(545.20,514.00) scale(1.0,1)" font-size="25.2" text-anchor="middle" fill="#231f20">1</text>
<text transform="translate(544.60,538.00) scale(1.0,1)" font-size="17.8" text-anchor="middle" fill="#231f20">41,4</text>
<path d="M30.4,597 L285.4,597 L285.4,694.5 L375.5,694.5 L375.5,744.5 L647.2,744.5 L647.2,879.7 L30.4,879.7 Z" fill="rgb(104,175,32)" fill-opacity="0.524"/>
<path d="M245.30,696.00 L267.75,712.00 A27.57,27.57 0 0 0 274.00,696.00" fill="none" stroke="#3e7a10" stroke-width="1.15" />
<rect x="243.70" y="694.40" width="3.20" height="3.20" fill="#567a2c"/>
<rect x="272.40" y="694.40" width="3.20" height="3.20" fill="#567a2c"/>
<path d="M220.20,737.30 L201.60,712.00 A31.40,31.40 0 0 1 220.20,704.50" fill="none" stroke="#3e7a10" stroke-width="1.15" />
<rect x="218.60" y="735.70" width="3.20" height="3.20" fill="#567a2c"/>
<rect x="218.60" y="702.90" width="3.20" height="3.20" fill="#567a2c"/>
<path d="M220.20,758.30 L201.60,782.00 A30.13,30.13 0 0 0 220.20,790.40" fill="none" stroke="#3e7a10" stroke-width="1.15" />
<rect x="218.60" y="756.70" width="3.20" height="3.20" fill="#567a2c"/>
<rect x="218.60" y="788.80" width="3.20" height="3.20" fill="#567a2c"/>
<path d="M263.50,795.60 L285.40,780.30 A26.72,26.72 0 0 1 292.20,795.60" fill="none" stroke="#3e7a10" stroke-width="1.15" />
<rect x="261.90" y="794.00" width="3.20" height="3.20" fill="#567a2c"/>
<rect x="290.60" y="794.00" width="3.20" height="3.20" fill="#567a2c"/>
<path d="M427.50,755.00 L445.00,779.50 A30.11,30.11 0 0 1 427.50,786.60" fill="none" stroke="#3e7a10" stroke-width="1.15" />
<rect x="425.90" y="753.40" width="3.20" height="3.20" fill="#567a2c"/>
<rect x="425.90" y="785.00" width="3.20" height="3.20" fill="#567a2c"/>
<path d="M389.00,795.60 L367.60,779.50 A26.78,26.78 0 0 0 361.25,795.60" fill="none" stroke="#3e7a10" stroke-width="1.15" />
<rect x="387.40" y="794.00" width="3.20" height="3.20" fill="#567a2c"/>
<rect x="359.65" y="794.00" width="3.20" height="3.20" fill="#567a2c"/>
<g transform="translate(255.7,641.3)"><rect x="0.6" y="0.5" width="16.2" height="7.9" rx="1.8" fill="none" stroke="#3e7a10" stroke-width="1.2"/><circle cx="8.7" cy="4.1" r="1.25" fill="#3e7a10"/><path d="M0.6,9.2 L16.8,9.2 L16.8,18 A8.1,8.3 0 0 1 0.6,18 Z" fill="none" stroke="#3e7a10" stroke-width="1.2"/></g>
<g transform="translate(221.8,693.2) rotate(-90)"><path d="M0.6,0 L0.6,8.03 A10.20,8.77 0 0 0 21.00,8.03 L21.00,0" fill="none" stroke="#3e7a10" stroke-width="1.2"/><path d="M4.6,4.8 L17.00,4.8 Q18.60,4.8 18.60,6.4 A7.80,8.00 0 0 1 3,6.4 Q3,4.8 4.6,4.8 Z" fill="none" stroke="#3e7a10" stroke-width="1.2"/><path d="M10.80,1.6 L10.80,6.6" stroke="#3e7a10" stroke-width="2.8" stroke-linecap="round"/></g>
<g transform="translate(345.3,874.5) scale(1,-1)"><rect x="0.6" y="0.5" width="16.2" height="7.9" rx="1.8" fill="none" stroke="#3e7a10" stroke-width="1.2"/><circle cx="8.7" cy="4.1" r="1.25" fill="#3e7a10"/><path d="M0.6,9.2 L16.8,9.2 L16.8,18 A8.1,8.3 0 0 1 0.6,18 Z" fill="none" stroke="#3e7a10" stroke-width="1.2"/></g>
<g transform="translate(371.2,874.5) scale(1,-1)"><path d="M0.6,0 L0.6,6.47 A11.20,9.63 0 0 0 23.00,6.47 L23.00,0" fill="none" stroke="#3e7a10" stroke-width="1.2"/><path d="M4.6,4.8 L19.00,4.8 Q20.60,4.8 20.60,6.4 A8.80,7.30 0 0 1 3,6.4 Q3,4.8 4.6,4.8 Z" fill="none" stroke="#3e7a10" stroke-width="1.2"/><path d="M11.80,1.6 L11.80,6.6" stroke="#3e7a10" stroke-width="2.8" stroke-linecap="round"/></g>
<g transform="translate(395.8,874.5) scale(1,-1)"><rect x="0.55" y="0.55" width="28.10" height="72.40" fill="none" stroke="#3e7a10" stroke-width="1.2"/><path d="M4.4,3.4 L24.80,3.4 Q27.10,3.4 27.10,5.7 L27.10,57.90 A12.50,12.50 0 0 1 2.1,57.90 L2.1,5.7 Q2.1,3.4 4.4,3.4 Z" fill="none" stroke="#3e7a10" stroke-width="1.2"/><path d="M14.30,1.8 L14.30,8" stroke="#3e7a10" stroke-width="3" stroke-linecap="round"/></g>
<rect x="193.60" y="597.00" width="24.90" height="28.70" rx="0" fill="none" stroke="#3e7a10" stroke-width="1.0"/>
<rect x="196.20" y="610.60" width="18.30" height="12.80" rx="2.2" fill="none" stroke="#3e7a10" stroke-width="1.2"/>
<path d="M208.4,617.2 L217.4,617.2" fill="none" stroke="#3e7a10" stroke-width="1.7" stroke-linecap="round"/>
<circle cx="208.4" cy="617.2" r="1.5" fill="#567a2c"/>
<rect x="268.90" y="598.00" width="15.50" height="14.00" rx="0" fill="none" stroke="#3e7a10" stroke-width="0.9"/>
<rect x="242.20" y="623.30" width="10.60" height="10.00" rx="0" fill="none" stroke="#3e7a10" stroke-width="0.9"/>
<rect x="273.50" y="623.30" width="10.70" height="10.00" rx="0" fill="none" stroke="#3e7a10" stroke-width="0.9"/>
<rect x="316.00" y="831.00" width="11.40" height="10.40" rx="0" fill="none" stroke="#3e7a10" stroke-width="0.9"/>
<rect x="316.00" y="863.00" width="10.40" height="9.80" rx="0" fill="none" stroke="#3e7a10" stroke-width="0.9"/>
<text transform="translate(124.00,680.00) scale(1.0,1)" font-size="17.8" text-anchor="start" fill="#3e7a10">16,3</text>
<text transform="translate(249.40,689.00) scale(1.02,1)" font-size="17.8" text-anchor="start" fill="#3e7a10">2,0</text>
<text transform="translate(302.60,750.00) scale(1.02,1)" font-size="17.8" text-anchor="start" fill="#3e7a10">9,9</text>
<text transform="translate(123.50,823.00) scale(1.0,1)" font-size="17.8" text-anchor="start" fill="#3e7a10">15,1</text>
<text transform="translate(264.90,842.00) scale(1.02,1)" font-size="17.8" text-anchor="start" fill="#3e7a10">3,1</text>
<text transform="translate(355.40,830.00) scale(1.02,1)" font-size="17.8" text-anchor="start" fill="#3e7a10">4,5</text>
<text transform="translate(502.00,859.00) scale(1.0,1)" font-size="17.8" text-anchor="start" fill="#3e7a10">16,5</text>
<circle cx="519.4" cy="795.9" r="31.25" fill="none" stroke="#3e7a10" stroke-width="1.25"/>
<line x1="488.15" y1="795.60" x2="550.65" y2="795.60" stroke="#3e7a10" stroke-width="1.2"/>
<text transform="translate(519.40,791.00) scale(1.0,1)" font-size="25.2" text-anchor="middle" fill="#3e7a10">2</text>
<text transform="translate(519.40,815.00) scale(1.0,1)" font-size="17.8" text-anchor="middle" fill="#3e7a10">67,4</text>
</svg>
</body></html>
